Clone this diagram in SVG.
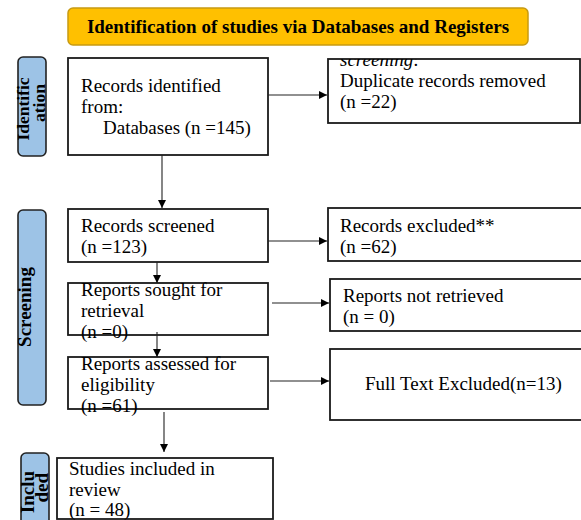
<svg xmlns="http://www.w3.org/2000/svg" width="581" height="520" viewBox="0 0 581 520">
<style>
.box{fill:#fff;stroke:#1a1a1a;stroke-width:1.8}
.side{fill:#9DC3E6;stroke:#222;stroke-width:1.6}
.t{font-family:"Liberation Serif","Times New Roman",serif;font-size:19px;fill:#000}
.b{font-family:"Liberation Serif","Times New Roman",serif;font-size:19px;font-weight:bold;fill:#000}
.c{stroke:#222;stroke-width:1.1;fill:none;marker-end:url(#ah)}
</style>
<defs>
<marker id="ah" viewBox="0 0 10 10" refX="10" refY="5" markerWidth="8" markerHeight="8" markerUnits="userSpaceOnUse" orient="auto">
<path d="M0,0 L10,5 L0,10 z" fill="#000"/>
</marker>
<clipPath id="clipdup"><rect x="320" y="59" width="261" height="80"/></clipPath>
</defs>
<rect width="581" height="520" fill="#fff"/>

<g id="title">
<rect x="68" y="8" width="460" height="37" rx="5" fill="#FFC000" stroke="#C79A12" stroke-width="1.5"/>
<text x="298" y="33" text-anchor="middle" class="b">Identification of studies via Databases and Registers</text>
</g>

<g id="label-identification">
<rect class="side" x="18" y="57" width="28" height="99" rx="5"/>
<text class="b" transform="translate(29,109) rotate(-90)" text-anchor="middle" style="font-size:17.5px">Identific</text>
<text class="b" transform="translate(45,103) rotate(-90)" text-anchor="middle" style="font-size:17.5px">ation</text>
</g>

<g id="label-screening">
<rect class="side" x="18" y="210" width="28" height="195" rx="5"/>
<text class="b" transform="translate(31,307) rotate(-90)" text-anchor="middle">Screening</text>
</g>

<g id="label-included">
<rect class="side" x="21" y="453" width="28" height="80" rx="5"/>
<text class="b" transform="translate(34,471) rotate(-90)" text-anchor="end">Inclu</text>
<text class="b" transform="translate(48,473) rotate(-90)" text-anchor="end">ded</text>
</g>

<g id="records-identified">
<rect class="box" x="68" y="58" width="200" height="97"/>
<text class="t" x="81" y="92">Records identified</text>
<text class="t" x="81" y="113">from:</text>
<text class="t" x="103" y="134">Databases (n =145)</text>
</g>

<g id="duplicates-removed">
<rect class="box" x="328" y="59" width="252" height="64"/>
<text class="t" x="340" y="66" clip-path="url(#clipdup)"><tspan font-style="italic">screening</tspan>:</text>
<text class="t" x="340" y="87">Duplicate records removed</text>
<text class="t" x="340" y="108">(n =22)</text>
</g>

<g id="records-screened">
<rect class="box" x="68" y="209" width="200" height="53"/>
<text class="t" x="81" y="232">Records screened</text>
<text class="t" x="81" y="253">(n =123)</text>
</g>

<g id="records-excluded">
<rect class="box" x="328" y="208" width="260" height="53"/>
<text class="t" x="340" y="232">Records excluded**</text>
<text class="t" x="340" y="253">(n =62)</text>
</g>

<g id="reports-sought">
<rect class="box" x="68" y="283" width="200" height="52"/>
<text class="t" x="81" y="296">Reports sought for</text>
<text class="t" x="81" y="317">retrieval</text>
<text class="t" x="81" y="338">(n =0)</text>
</g>

<g id="reports-not-retrieved">
<rect class="box" x="330" y="279" width="260" height="52"/>
<text class="t" x="343" y="302">Reports not retrieved</text>
<text class="t" x="343" y="323">(n = 0)</text>
</g>

<g id="reports-assessed">
<rect class="box" x="68" y="357" width="200" height="52"/>
<text class="t" x="81" y="370">Reports assessed for</text>
<text class="t" x="81" y="391">eligibility</text>
<text class="t" x="81" y="412">(n =61)</text>
</g>

<g id="full-text-excluded">
<rect class="box" x="330" y="349" width="260" height="71"/>
<text class="t" x="365" y="390">Full Text Excluded(n=13)</text>
</g>

<g id="studies-included">
<rect class="box" x="57" y="458" width="216" height="61"/>
<text class="t" x="69" y="475">Studies included in</text>
<text class="t" x="69" y="496">review</text>
<text class="t" x="69" y="516">(n = 48)</text>
</g>

<g id="connectors">
<line class="c" x1="268" y1="95" x2="327" y2="95"/>
<line class="c" x1="162" y1="155" x2="162" y2="208"/>
<line class="c" x1="268" y1="241" x2="327" y2="241"/>
<line class="c" x1="157" y1="262" x2="157" y2="283"/>
<line class="c" x1="272" y1="303" x2="329" y2="303"/>
<line class="c" x1="157" y1="332" x2="157" y2="357"/>
<line class="c" x1="270" y1="381" x2="329" y2="381"/>
<line class="c" x1="164" y1="412" x2="164" y2="452"/>
</g>
</svg>
